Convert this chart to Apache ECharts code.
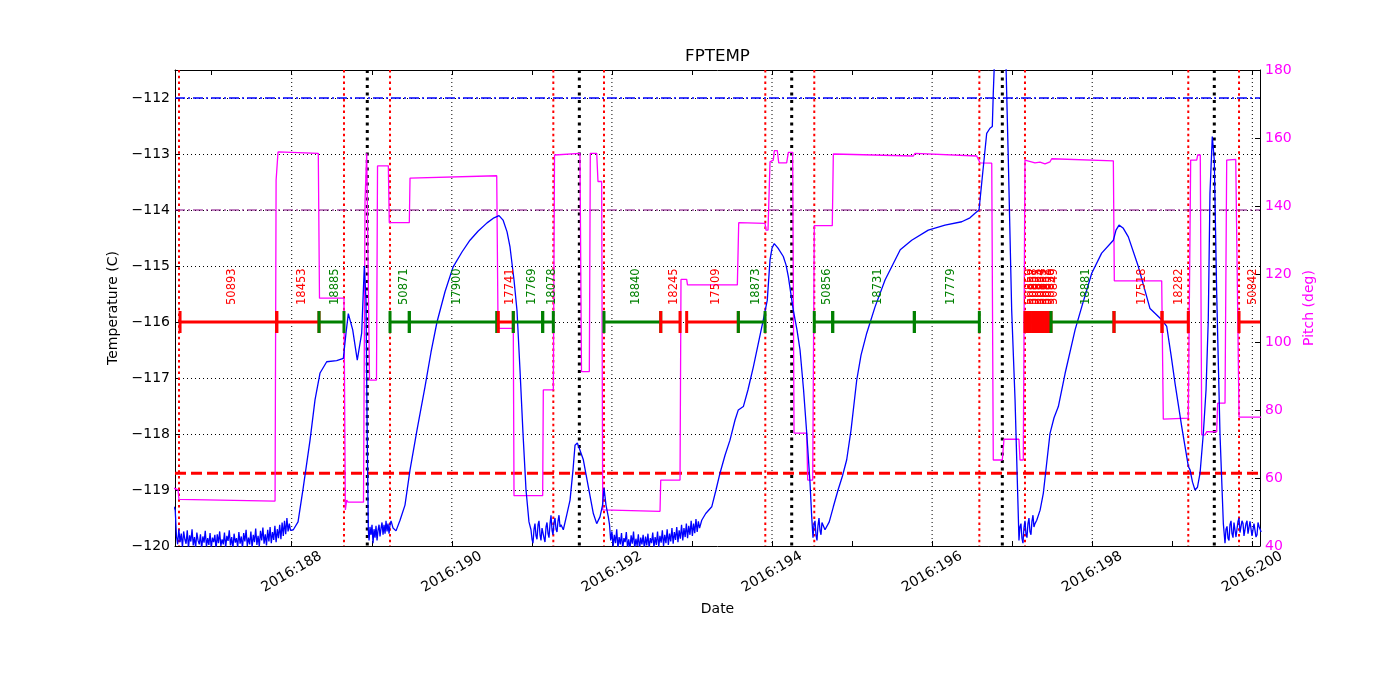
<!DOCTYPE html>
<html><head><meta charset="utf-8">
<script src="https://cdn.jsdelivr.net/npm/echarts@6/dist/echarts.min.js"></script>
<style>html,body{margin:0;padding:0;background:#fff}#c{width:1400px;height:700px}</style>
</head><body><div id="c"></div>
<script>
// ---------- axes ----------
const dayMin = 186.542, dayMax = 200.096;
const dayTicks = [187,188,189,190,191,192,193,194,195,196,197,198,199,200];
const dayLabels = [188,190,192,194,196,198,200];
const tempMin = -120, tempMax = -111.5, tempStep = 1;
const pitchMin = 40, pitchMax = 180, pitchStep = 20;

// ---------- reference lines ----------
const redLines = [186.592,188.653,189.228,191.268,191.901,193.916,194.528,196.590,197.160,199.200,199.834];
const blackLines = [188.944,191.593,194.246,196.877,199.525];
const blueLimit = [-112.0];
const purpleLimit = [-114.0];
const redLimit = [-118.7];

// ---------- observations ----------
const obsLevel = -116.0;
const obsIds    = [50893,18453,18885,50871,17900,17741,17769,18078,18840,18245,17509,18873,50856,18731,17779,
                   50859,50858,50857,50855,50854,50853,50852,50851,50850,50849,18881,17518,18282,50842];
const obsColors = ['r','r','g','g','g','r','g','g','g','r','r','g','g','g','g',
                   'r','r','r','r','r','r','r','r','r','r','g','r','r','r'];
const obsStart  = [186.605,187.813,188.341,189.228,189.469,190.581,190.768,191.135,191.901,192.610,192.934,193.579,194.528,194.758,195.778,
                   197.160,197.193,197.225,197.258,197.290,197.323,197.355,197.388,197.420,197.453,197.485,198.272,198.872,199.834];
const obsStop   = [187.813,188.341,188.653,189.469,190.561,190.768,191.135,191.268,192.610,192.851,193.579,193.913,194.758,195.778,196.590,
                   197.193,197.225,197.258,197.290,197.323,197.355,197.388,197.420,197.453,197.485,198.272,198.872,199.200,200.140];

// ---------- FPTEMP (day, degC) ----------
const fptemp = [
[186.53,-119.30],[186.545,-119.36],[186.560,-119.82],[186.575,-119.97],[186.590,-119.70],[186.605,-119.93],
[186.620,-119.78],[186.635,-120.02],[186.650,-119.74],[186.665,-119.88],[186.680,-119.96],[186.695,-119.72],
[186.710,-120.04],[186.725,-119.81],[186.740,-119.92],[186.755,-119.70],[186.770,-119.99],[186.785,-119.84],
[186.800,-120.03],[186.815,-119.76],[186.830,-119.90],[186.845,-119.97],[186.860,-119.79],[186.875,-120.05],
[186.890,-119.83],[186.905,-119.94],[186.920,-119.73],[186.935,-120.01],[186.950,-119.86],[186.965,-119.98],
[186.980,-119.77],[186.995,-120.04],[187.010,-119.85],[187.025,-119.93],[187.040,-119.80],[187.055,-120.06],
[187.070,-119.79],[187.085,-119.95],[187.100,-119.74],[187.115,-120.00],[187.130,-119.88],[187.145,-119.97],
[187.160,-119.76],[187.175,-120.03],[187.190,-119.82],[187.205,-119.91],[187.220,-119.72],[187.235,-119.99],
[187.250,-119.84],[187.265,-120.05],[187.280,-119.78],[187.295,-119.94],[187.310,-119.86],[187.325,-120.02],
[187.340,-119.75],[187.355,-119.96],[187.370,-119.83],[187.385,-120.04],[187.400,-119.77],[187.415,-119.92],
[187.430,-119.71],[187.445,-120.00],[187.460,-119.85],[187.475,-119.97],[187.490,-119.74],[187.505,-120.03],
[187.520,-119.80],[187.535,-119.93],[187.550,-119.69],[187.565,-119.98],[187.580,-119.82],[187.595,-120.01],
[187.610,-119.73],[187.625,-119.90],[187.640,-119.67],[187.655,-119.96],[187.670,-119.79],[187.685,-119.99],
[187.700,-119.71],[187.715,-119.92],[187.730,-119.66],[187.745,-119.95],[187.760,-119.75],[187.775,-119.89],
[187.790,-119.64],[187.805,-119.93],[187.820,-119.70],[187.835,-119.86],[187.850,-119.62],[187.865,-119.88],
[187.880,-119.58],[187.895,-119.82],[187.910,-119.55],[187.925,-119.79],[187.940,-119.50],[187.955,-119.74],
[187.970,-119.60],[187.985,-119.72],
[188.020,-119.71],[188.079,-119.57],[188.145,-118.95],[188.229,-118.11],[188.291,-117.39],[188.354,-116.91],
[188.437,-116.71],[188.562,-116.69],[188.645,-116.65],[188.678,-116.20],[188.707,-115.85],[188.762,-116.14],
[188.819,-116.68],[188.874,-116.20],[188.907,-115.00],[188.928,-115.61],[188.941,-117.75],[188.957,-119.71],
[188.966,-119.90],[188.978,-119.66],[188.991,-119.80],[189.003,-119.62],[189.016,-119.95],[189.028,-119.70],
[189.041,-119.85],[189.053,-119.64],[189.066,-119.90],[189.078,-119.72],[189.091,-119.62],[189.103,-119.83],
[189.116,-119.68],[189.128,-119.58],[189.141,-119.80],[189.153,-119.62],[189.166,-119.78],[189.178,-119.55],
[189.191,-119.74],[189.203,-119.60],[189.216,-119.78],[189.228,-119.62],[189.241,-119.55],[189.266,-119.68],
[189.303,-119.73],[189.353,-119.54],[189.415,-119.27],[189.478,-118.64],[189.565,-117.93],[189.665,-117.16],
[189.740,-116.54],[189.815,-116.00],[189.915,-115.46],[190.015,-115.02],[190.127,-114.75],[190.227,-114.54],
[190.327,-114.38],[190.440,-114.23],[190.527,-114.14],[190.590,-114.10],[190.640,-114.18],[190.690,-114.39],
[190.727,-114.66],[190.777,-115.25],[190.814,-115.79],[190.852,-116.86],[190.889,-117.98],[190.927,-119.00],
[190.964,-119.57],[190.989,-119.71],
[191.002,-119.88],[191.014,-119.95],[191.027,-119.70],[191.039,-119.60],[191.052,-119.82],[191.064,-119.88],
[191.077,-119.62],[191.089,-119.55],[191.102,-119.80],[191.114,-119.90],[191.127,-119.68],[191.139,-119.65],
[191.152,-119.86],[191.164,-119.93],[191.177,-119.66],[191.189,-119.58],[191.202,-119.78],[191.214,-119.85],
[191.227,-119.60],[191.239,-119.45],[191.252,-119.72],[191.264,-119.80],[191.277,-119.58],[191.289,-119.50],
[191.302,-119.70],[191.314,-119.75],[191.327,-119.55],[191.339,-119.45],[191.352,-119.66],[191.364,-119.62],
[191.393,-119.71],
[191.435,-119.45],[191.477,-119.18],[191.514,-118.64],[191.539,-118.20],[191.568,-118.16],[191.601,-118.29],
[191.643,-118.46],[191.705,-118.94],[191.768,-119.42],[191.810,-119.60],[191.851,-119.48],[191.883,-119.27],
[191.901,-118.96],[191.926,-119.27],[191.955,-119.48],
[191.970,-119.62],[191.985,-119.90],[192.000,-119.74],[192.015,-120.01],[192.030,-119.80],[192.045,-119.95],
[192.060,-119.70],[192.075,-120.04],[192.090,-119.84],[192.105,-119.97],[192.120,-119.77],[192.135,-120.05],
[192.150,-119.86],[192.165,-119.93],[192.180,-119.75],[192.195,-120.03],[192.210,-119.88],[192.225,-120.06],
[192.240,-119.81],[192.255,-119.96],[192.270,-119.74],[192.285,-120.04],[192.300,-119.87],[192.315,-120.00],
[192.330,-119.79],[192.345,-120.06],[192.360,-119.85],[192.375,-119.97],[192.390,-119.80],[192.405,-120.05],
[192.420,-119.83],[192.435,-119.99],[192.450,-119.78],[192.465,-120.04],[192.480,-119.86],[192.495,-119.95],
[192.510,-119.76],[192.525,-120.03],[192.540,-119.84],[192.555,-119.98],[192.570,-119.74],[192.585,-120.02],
[192.600,-119.82],[192.615,-119.94],[192.630,-119.72],[192.645,-120.00],[192.660,-119.80],[192.675,-119.95],
[192.690,-119.70],[192.705,-119.98],[192.720,-119.78],[192.735,-119.92],[192.750,-119.68],[192.765,-119.96],
[192.780,-119.75],[192.795,-119.89],[192.810,-119.66],[192.825,-119.93],[192.840,-119.72],[192.855,-119.87],
[192.870,-119.62],[192.885,-119.90],[192.900,-119.68],[192.915,-119.84],[192.930,-119.60],[192.945,-119.86],
[192.960,-119.64],[192.975,-119.80],[192.990,-119.55],[193.005,-119.82],[193.020,-119.60],[193.035,-119.77],
[193.050,-119.52],[193.065,-119.75],[193.080,-119.56],[193.095,-119.68],
[193.122,-119.54],[193.172,-119.42],[193.247,-119.30],[193.300,-119.00],[193.350,-118.70],[193.413,-118.38],
[193.475,-118.11],[193.538,-117.75],[193.579,-117.57],[193.642,-117.51],[193.700,-117.21],[193.767,-116.80],
[193.825,-116.41],[193.891,-115.96],[193.941,-115.61],[193.975,-114.89],[194.000,-114.68],[194.028,-114.60],
[194.075,-114.68],[194.141,-114.83],[194.175,-114.98],[194.204,-115.19],[194.238,-115.52],[194.266,-115.79],
[194.312,-116.14],[194.350,-116.50],[194.394,-117.21],[194.434,-117.99],[194.475,-118.88],[194.496,-119.48],
[194.512,-119.85],[194.524,-119.62],[194.537,-119.55],[194.549,-119.80],[194.562,-119.90],[194.574,-119.64],
[194.587,-119.50],[194.599,-119.72],[194.612,-119.80],[194.624,-119.58],[194.637,-119.60],[194.662,-119.71],
[194.715,-119.57],[194.766,-119.30],[194.825,-119.00],[194.880,-118.75],[194.933,-118.46],[194.987,-117.93],
[195.058,-117.04],[195.112,-116.59],[195.183,-116.20],[195.287,-115.73],[195.412,-115.25],[195.602,-114.71],
[195.745,-114.54],[195.952,-114.36],[196.161,-114.27],[196.370,-114.21],[196.473,-114.14],[196.536,-114.06],
[196.586,-114.00],[196.627,-113.41],[196.682,-112.63],[196.723,-112.54],[196.752,-112.51],[196.764,-111.92],
[196.777,-111.41],[196.840,-110.50],[196.923,-111.41],[196.952,-113.11],[196.994,-115.79],[197.036,-117.39],
[197.077,-119.48],
[197.085,-119.90],[197.097,-119.66],[197.110,-119.60],[197.122,-119.86],[197.135,-119.95],[197.147,-119.68],
[197.160,-119.55],[197.172,-119.78],[197.185,-119.85],[197.197,-119.60],[197.210,-119.50],[197.222,-119.74],
[197.235,-119.80],[197.247,-119.56],[197.260,-119.45],[197.272,-119.66],[197.285,-119.60],[197.307,-119.54],
[197.349,-119.36],[197.389,-119.06],[197.429,-118.55],[197.473,-117.99],[197.523,-117.71],[197.577,-117.51],
[197.661,-116.92],[197.786,-116.14],[197.869,-115.73],[197.994,-115.13],[198.118,-114.77],[198.264,-114.54],
[198.297,-114.36],[198.335,-114.27],[198.385,-114.32],[198.451,-114.48],[198.576,-115.01],[198.722,-115.76],
[198.868,-115.96],[198.931,-116.08],[198.985,-116.59],[199.035,-117.10],[199.118,-117.87],[199.201,-118.58],
[199.222,-118.64],[199.253,-118.86],[199.284,-119.00],[199.315,-118.95],[199.347,-118.70],[199.388,-117.99],
[199.422,-117.21],[199.450,-115.96],[199.471,-113.70],[199.500,-112.69],[199.525,-113.11],[199.555,-115.49],
[199.596,-117.99],[199.638,-119.60],
[199.659,-119.95],[199.671,-119.70],[199.684,-119.65],[199.696,-119.86],[199.709,-119.90],[199.721,-119.62],
[199.734,-119.55],[199.746,-119.78],[199.759,-119.85],[199.771,-119.58],[199.784,-119.60],[199.796,-119.84],
[199.809,-119.82],[199.821,-119.56],[199.834,-119.50],[199.846,-119.76],[199.859,-119.78],[199.871,-119.55],
[199.884,-119.60],[199.896,-119.82],[199.909,-119.85],[199.921,-119.60],[199.934,-119.55],[199.946,-119.78],
[199.959,-119.80],[199.971,-119.56],[199.984,-119.58],[199.996,-119.82],[200.009,-119.85],[200.021,-119.60],
[200.034,-119.62],[200.046,-119.84],[200.059,-119.80],[200.071,-119.58],[200.084,-119.65],[200.110,-119.75]
];

// ---------- Pitch (day, deg) ----------
const pitch = [
[186.53,57.0],[186.580,56.5],[186.592,53.7],[187.792,53.2],[187.805,147.6],[187.829,155.9],[188.332,155.5],
[188.347,112.9],[188.653,112.9],[188.670,50.6],[188.687,53.5],[188.703,52.9],[188.897,52.9],[188.916,141.8],
[188.937,155.5],[188.953,155.0],[188.972,88.8],[189.059,88.8],[189.072,151.8],[189.207,151.8],[189.219,135.1],
[189.469,135.1],[189.478,148.2],[190.561,148.9],[190.577,105.5],[190.590,104.0],[190.768,104.0],[190.777,54.8],
[191.135,54.8],[191.143,85.9],[191.268,85.9],[191.283,155.0],[191.601,155.5],[191.620,91.3],[191.718,91.3],
[191.730,155.5],[191.810,155.5],[191.826,147.2],[191.872,147.2],[191.885,50.6],[192.601,50.2],[192.610,59.4],
[192.851,59.4],[192.863,118.4],[192.934,118.4],[192.944,116.8],[193.567,116.8],[193.584,135.1],[193.913,134.9],
[193.925,132.9],[193.950,132.9],[193.975,153.0],[194.016,153.5],[194.029,156.3],[194.066,156.3],[194.084,152.7],
[194.183,152.7],[194.204,155.8],[194.258,155.8],[194.275,73.2],[194.433,73.2],[194.446,59.4],[194.508,59.4],
[194.528,134.2],[194.753,134.2],[194.766,155.3],[195.765,154.7],[195.786,155.5],[196.557,154.7],[196.598,152.7],
[196.745,152.6],[196.764,65.3],[196.877,65.3],[196.898,71.4],[197.085,71.4],[197.098,65.3],[197.139,65.3],
[197.160,153.5],[197.285,152.7],[197.348,152.9],[197.410,152.4],[197.473,153.0],[197.494,153.9],[198.264,153.3],
[198.276,118.0],[198.868,118.0],[198.888,77.3],[199.200,77.6],[199.230,153.5],[199.305,153.5],[199.318,155.0],
[199.350,155.0],[199.368,72.7],[199.409,72.7],[199.430,73.6],[199.555,73.6],[199.567,82.0],[199.659,82.0],
[199.680,153.5],[199.793,153.7],[199.834,77.9],[200.110,77.9]
];

// ---------- build chart ----------
const FONT = '"DejaVu Sans", "Liberation Sans", sans-serif';
const colorMap = { r: '#ff0000', g: '#008000' };
const minusFmt = v => String(v).replace('-', '\u2212');

function vLines(days, color, width, dash, z) {
  return {
    type: 'custom', xAxisIndex: 0, yAxisIndex: 0, z: z, silent: true, animation: false,
    data: days.map(d => [d, tempMin]), encode: { x: 0, y: 1 },
    renderItem: function (params, api) {
      const cs = params.coordSys;
      const x = api.coord([api.value(0), tempMin])[0];
      return { type: 'line', shape: { x1: x, y1: cs.y, x2: x, y2: cs.y + cs.height },
               style: { stroke: color, lineWidth: width, lineDash: dash, fill: null } };
    }
  };
}
function hLines(vals, color, width, dash, z) {
  return {
    type: 'custom', xAxisIndex: 0, yAxisIndex: 0, z: z, silent: true, animation: false,
    data: vals.map(v => [dayMin, v]), encode: { x: 0, y: 1 },
    renderItem: function (params, api) {
      const cs = params.coordSys;
      const y = api.coord([dayMin, api.value(1)])[1];
      return { type: 'line', shape: { x1: cs.x, y1: y, x2: cs.x + cs.width, y2: y },
               style: { stroke: color, lineWidth: width, lineDash: dash, fill: null } };
    }
  };
}

const obsData = obsStart.map((s, i) => [s, obsStop[i], i]);

const chart = echarts.init(document.getElementById('c'), null, { renderer: 'canvas' });
chart.setOption({
  animation: false,
  backgroundColor: '#ffffff',
  textStyle: { fontFamily: FONT },
  grid: { left: 175, right: 140, top: 70, bottom: 154, containLabel: false },
  graphic: [{
    type: 'text', x: 717.5, y: 57, silent: true,
    style: { text: 'FPTEMP', font: '16.7px ' + FONT, fill: '#000',
             align: 'center', verticalAlign: 'middle', textAlign: 'center', textVerticalAlign: 'middle' }
  }],
  xAxis: [{
    type: 'value', position: 'bottom', min: dayMin, max: dayMax,
    axisLine: { show: true, onZero: false, lineStyle: { color: '#000', width: 1 } },
    axisTick: { show: true, inside: true, length: 5, customValues: dayTicks, lineStyle: { color: '#000' } },
    axisLabel: { customValues: dayLabels, rotate: 30, align: 'center', verticalAlign: 'middle', margin: 26,
                 fontSize: 14, color: '#000', fontFamily: FONT, formatter: v => '2016:' + v },
    splitLine: { show: false },
    name: 'Date', nameLocation: 'middle', nameGap: 56,
    nameTextStyle: { fontSize: 14, color: '#000', fontFamily: FONT }
  }, {
    type: 'value', position: 'top', min: dayMin, max: dayMax,
    axisLine: { show: true, onZero: false, lineStyle: { color: '#000', width: 1 } },
    axisTick: { show: true, inside: true, length: 5, customValues: dayTicks, lineStyle: { color: '#000' } },
    axisLabel: { show: false }, splitLine: { show: false }
  }],
  yAxis: [{
    type: 'value', position: 'left', min: tempMin, max: tempMax, interval: tempStep,
    axisLine: { show: true, onZero: false, lineStyle: { color: '#000', width: 1 } },
    axisTick: { show: true, inside: true, length: 5, lineStyle: { color: '#000' } },
    axisLabel: { fontSize: 14, color: '#000', margin: 5, fontFamily: FONT, showMaxLabel: false, formatter: minusFmt },
    splitLine: { show: true, lineStyle: { color: '#000', width: 1, type: [1, 3] } },
    name: 'Temperature (C)', nameLocation: 'middle', nameGap: 49, nameRotate: 90,
    nameTextStyle: { fontSize: 14, color: '#000', fontFamily: FONT }
  }, {
    type: 'value', position: 'right', min: pitchMin, max: pitchMax, interval: pitchStep,
    axisLine: { show: true, onZero: false, lineStyle: { color: '#000', width: 1 } },
    axisTick: { show: true, inside: true, length: 5, lineStyle: { color: '#000' } },
    axisLabel: { fontSize: 14, color: '#ff00ff', margin: 5, fontFamily: FONT },
    splitLine: { show: false },
    name: 'Pitch (deg)', nameLocation: 'middle', nameGap: 35, nameRotate: 90,
    nameTextStyle: { fontSize: 14, color: '#ff00ff', fontFamily: FONT }
  }],
  series: [
    vLines(dayLabels, '#000000', 1, [1, 3], 1),
    vLines(redLines, '#ff0000', 2, [2.5, 3.3], 2),
    vLines(blackLines, '#000000', 3, [3, 4.5], 2),
    hLines(blueLimit, '#0000ff', 1.3, [10, 3, 2, 3], 3),
    hLines(purpleLimit, '#800080', 1.2, [10, 3, 2, 3], 3),
    hLines(redLimit, '#ff0000', 3, [11, 5], 3),
    {
      name: 'Pitch', type: 'line', xAxisIndex: 0, yAxisIndex: 1, z: 4, data: pitch,
      showSymbol: false, symbol: 'none', clip: true, animation: false, silent: true,
      lineStyle: { color: '#ff00ff', width: 1.3 }
    },
    {
      name: 'FPTEMP', type: 'line', xAxisIndex: 0, yAxisIndex: 0, z: 5, data: fptemp,
      showSymbol: false, symbol: 'none', clip: true, animation: false, silent: true,
      lineStyle: { color: '#0000ff', width: 1.3 }
    },
    {
      type: 'custom', xAxisIndex: 0, yAxisIndex: 0, z: 6, silent: true, animation: false,
      data: obsData, encode: { x: [0, 1] },
      renderItem: function (params, api) {
        const cs = params.coordSys;
        const i = api.value(2);
        const p1 = api.coord([api.value(0), obsLevel]);
        const p2 = api.coord([api.value(1), obsLevel]);
        const right = cs.x + cs.width;
        const x2 = Math.min(p2[0], right);
        const col = colorMap[obsColors[i]];
        const y = p1[1];
        const children = [
          { type: 'line', shape: { x1: p1[0], y1: y, x2: x2, y2: y }, style: { stroke: col, lineWidth: 3 } },
          { type: 'line', shape: { x1: p1[0], y1: y - 11, x2: p1[0], y2: y + 11 }, style: { stroke: col, lineWidth: 3 } }
        ];
        if (p2[0] <= right) {
          children.push({ type: 'line', shape: { x1: p2[0], y1: y - 11, x2: p2[0], y2: y + 11 }, style: { stroke: col, lineWidth: 3 } });
        }
        children.push({
          type: 'text', x: (p1[0] + x2) / 2 + 4, y: y - 17, rotation: Math.PI / 2,
          style: { text: String(obsIds[i]), fill: col, font: '11.5px ' + FONT,
                   align: 'left', verticalAlign: 'middle', textAlign: 'left', textVerticalAlign: 'middle' }
        });
        return { type: 'group', children: children };
      }
    }
  ]
});
</script>
</body></html>
